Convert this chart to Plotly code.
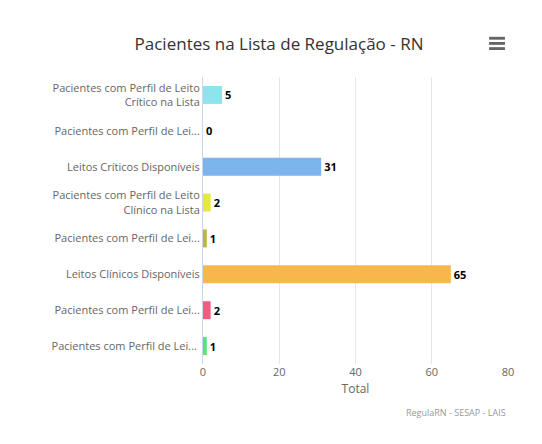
import plotly.graph_objects as go

categories = ["Pacientes com Perfil de Leito<br>Crítico na Lista", "Pacientes com Perfil de Lei...",
              "Leitos Críticos Disponíveis", "Pacientes com Perfil de Leito<br>Clínico na Lista",
              "Pacientes com Perfil de Lei...", "Leitos Clínicos Disponíveis",
              "Pacientes com Perfil de Lei...", "Pacientes com Perfil de Lei... "]
values = [5, 0, 31, 2, 1, 65, 2, 1]
colors = ["#8ee3ec", "#7cb5ec", "#7cb5ec", "#e4ea3a", "#b8b83e", "#f7b84b", "#f15c80", "#5fe07a"]
cats = []
for i, c in enumerate(categories):
    cats.append(c + "\u200b" * i)

fig = go.Figure(go.Bar(
    x=values, y=cats, orientation="h", marker=dict(color=colors, line=dict(width=0)),
    width=0.5, text=["<b>%d</b>" % v for v in values], textposition="outside",
    textfont=dict(size=11, color="#000"), cliponaxis=False))

icon = []
for y0 in (1.094, 1.112, 1.130):
    icon.append(dict(type="rect", xref="paper", yref="paper", x0=0.938, x1=0.99,
                     y0=y0, y1=y0 + 0.01, fillcolor="#666", line_width=0))

fig.update_layout(
    width=542, height=444, paper_bgcolor="white", plot_bgcolor="white",
    font=dict(family="Open Sans, DejaVu Sans", size=11, color="#666"),
    title=dict(text="Pacientes na Lista de Regulação - RN", x=0.5, xanchor="center", y=0.932,
               font=dict(size=17, color="#333")),
    margin=dict(l=195, r=42, t=69, b=88),
    showlegend=False,
    xaxis=dict(range=[0, 80], dtick=20, showgrid=True, gridcolor="#e6e6e6", zeroline=False,
               title=dict(text="Total", font=dict(size=12, color="#666"), standoff=6),
               tickfont=dict(size=11, color="#666"), ticks=""),
    yaxis=dict(autorange="reversed", showline=True, linecolor="#ccd6eb", ticks="",
               tickfont=dict(size=11, color="#666")),
    annotations=[dict(text="RegulaRN - SESAP - LAIS", x=1, xanchor="right", xref="paper",
                      y=-0.17, yref="paper", yanchor="middle", showarrow=False,
                      font=dict(size=9, color="#999"))],
    shapes=icon,
)
fig.write_html("out.html", config={"displayModeBar": False})
